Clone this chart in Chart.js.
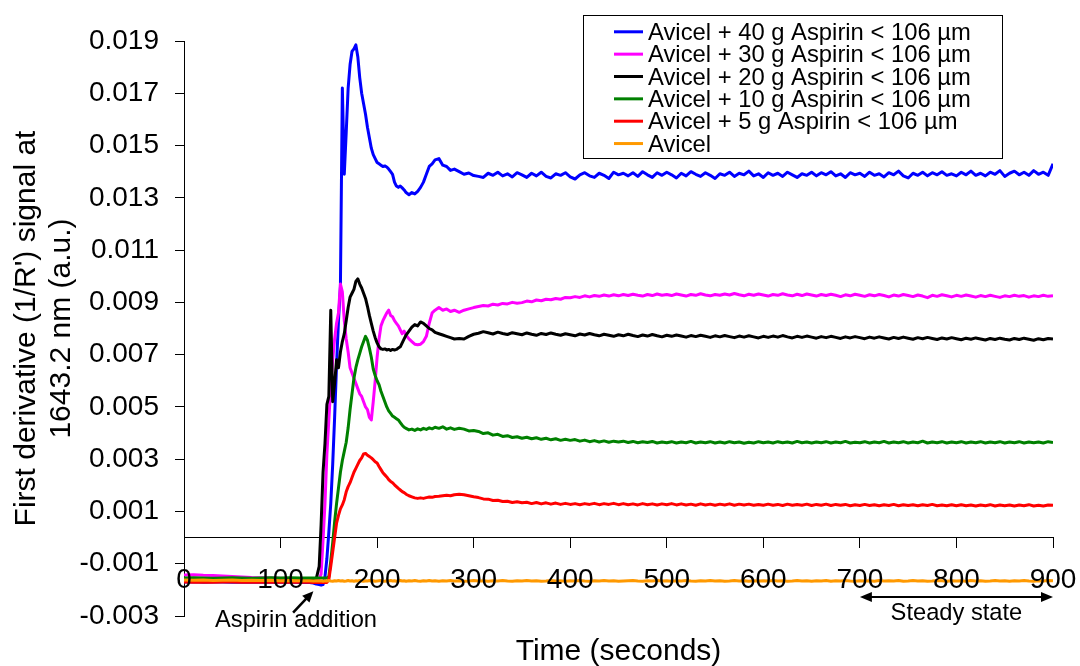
<!DOCTYPE html>
<html><head><meta charset="utf-8">
<script src="https://cdn.jsdelivr.net/npm/chart.js@4.4.1/dist/chart.umd.min.js"></script>
<style>html,body{margin:0;padding:0;background:#fff;}canvas{display:block;}</style>
</head><body>
<canvas id="c" width="1080" height="666"></canvas>
<script>
const FONT = '"Liberation Sans", Arial, Helvetica, sans-serif';

// Time (seconds)
const time = [0,10,20,30,40,50,60,70,80,90,100,110,120,130,
134,137,140,
142,144,146,148,150,152,154,156,158,160,
162,164,166,168,170,172,174,176,178,180,
182,184,186,188,190,192,194,196,198,200,
202,204,206,208,210,212,214,216,218,220,
222,224,226,228,230,
233,236,239,242,245,248,251,254,257,260,
264,268,272,276,280,
285,290,295,300,
305,310,315,320,325,330,335,340,345,350,
355,360,365,370,375,380,385,390,395,400,
405,410,415,420,425,430,435,440,445,450,
455,460,465,470,475,480,485,490,495,500,
505,510,515,520,525,530,535,540,545,550,
555,560,565,570,575,580,585,590,595,600,
605,610,615,620,625,630,635,640,645,650,
655,660,665,670,675,680,685,690,695,700,
705,710,715,720,725,730,735,740,745,750,
755,760,765,770,775,780,785,790,795,800,
805,810,815,820,825,830,835,840,845,850,
855,860,865,870,875,880,885,890,895,900];

const aspirin40 = [-0.0017,-0.00169,-0.00171,-0.0017,-0.0017,-0.00171,-0.0017,-0.00171,-0.0017,-0.00171,-0.0017,-0.00171,-0.00172,-0.00172,
-0.00174,-0.00178,-0.0018,
-0.00182,-0.0018,-0.0015,-0.0008,0.0002,0.0013,0.0028,0.0046,0.0066,0.0083,
0.0096,0.0172,0.0139,0.0155,0.0172,0.0181,0.0186,0.0187,0.01885,0.0184,
0.0176,0.017,0.0166,0.0162,0.0157,0.0153,0.0149,0.01465,0.0145,0.01435,
0.0143,0.01425,0.0142,0.01422,0.01418,0.0141,0.014,0.0139,0.0136,0.01345,
0.0134,0.01345,0.01338,0.0133,0.0132,
0.01312,0.0132,0.01315,0.01325,0.0134,0.0136,0.0139,0.0142,0.0143,0.01445,
0.0145,0.01425,0.0142,0.01405,0.0141,
0.014,0.0139,0.01395,0.01385,
0.01382,0.01378,0.01394,0.01386,0.01398,0.01384,0.01392,0.0138,0.01396,0.01388,
0.01378,0.01394,0.01384,0.01398,0.01382,0.01376,0.01392,0.01386,0.01396,0.0138,
0.01372,0.01388,0.01396,0.01384,0.01378,0.01394,0.01386,0.01374,0.01398,0.01388,
0.01394,0.01384,0.01396,0.01382,0.014,0.01388,0.01378,0.01396,0.01386,0.01398,
0.01388,0.01376,0.01394,0.01384,0.014,0.0139,0.01382,0.01396,0.01386,0.01374,
0.01392,0.01386,0.01398,0.01382,0.01394,0.01388,0.01402,0.01384,0.01392,0.01378,
0.01396,0.01386,0.01394,0.01382,0.01398,0.01388,0.01378,0.01392,0.01386,0.01398,
0.01384,0.01396,0.01388,0.014,0.01384,0.01392,0.01378,0.01396,0.01388,0.01394,
0.01382,0.01398,0.01386,0.01392,0.0138,0.01396,0.01388,0.01402,0.01384,0.01376,
0.01394,0.01386,0.01398,0.01384,0.01396,0.01388,0.014,0.01386,0.01392,0.01384,
0.01398,0.01388,0.01402,0.01386,0.01394,0.01384,0.01398,0.0139,0.01404,0.01382,
0.01394,0.01402,0.01388,0.01398,0.01386,0.01404,0.0139,0.01398,0.01386,0.0143];

const aspirin30 = [-0.00143,-0.00142,-0.00144,-0.00145,-0.00147,-0.00149,-0.00151,-0.00153,-0.00154,-0.00155,-0.00156,-0.00157,-0.00157,-0.00158,
-0.00158,-0.00158,-0.00158,
-0.0014,-0.0001,0.0013,0.0032,0.0045,0.0058,0.0068,0.0076,0.0082,0.0086,
0.0097,0.0094,0.0083,0.0076,0.0071,0.0065,0.0063,0.0061,0.0059,0.0057,
0.0055,0.0054,0.0052,0.005,0.0049,0.0046,0.0045,0.0052,0.006,0.0069,
0.0076,0.0081,0.0083,0.00845,0.0086,0.0087,0.0085,0.00845,0.0083,0.0082,
0.0081,0.00795,0.0078,0.0079,0.00775,
0.0076,0.0075,0.0074,0.00738,0.0074,0.0075,0.0077,0.0082,0.0086,0.0087,
0.0088,0.0087,0.00875,0.00865,0.0087,
0.00862,0.0087,0.00875,0.0088,
0.00884,0.00888,0.00886,0.00893,0.0089,0.00896,0.00894,0.009,0.00897,0.00899,
0.00905,0.00902,0.00909,0.00906,0.00912,0.0091,0.00915,0.00912,0.00919,0.00918,
0.00922,0.00919,0.00925,0.00921,0.00926,0.00923,0.00928,0.00924,0.00929,0.00925,
0.0093,0.00926,0.00931,0.00927,0.00924,0.0093,0.00926,0.00932,0.00927,0.0093,
0.00926,0.00932,0.00928,0.00924,0.0093,0.00927,0.00933,0.00928,0.00925,0.0093,
0.00927,0.00932,0.00928,0.00934,0.00929,0.00925,0.00931,0.00927,0.00932,0.00928,
0.00924,0.0093,0.00927,0.00933,0.00928,0.00925,0.00931,0.00926,0.00932,0.00928,
0.00924,0.0093,0.00926,0.00931,0.00927,0.00922,0.00929,0.00925,0.00931,0.00927,
0.00923,0.00929,0.00925,0.0093,0.00926,0.00921,0.00928,0.00924,0.0093,0.00926,
0.00922,0.00928,0.00924,0.00918,0.00927,0.00923,0.00929,0.00925,0.00921,0.00927,
0.00923,0.00928,0.00924,0.0092,0.00926,0.00922,0.00927,0.00923,0.00919,0.00925,
0.00922,0.00927,0.00923,0.00926,0.0092,0.00925,0.00922,0.00927,0.00923,0.00925];

const aspirin20 = [-0.00158,-0.00158,-0.00158,-0.00158,-0.00159,-0.00158,-0.00159,-0.00158,-0.00159,-0.00158,-0.00159,-0.00158,-0.00159,-0.00158,
-0.00158,-0.00157,-0.0011,
0.0005,0.0025,0.0036,0.0051,0.0054,0.0087,0.0052,0.0059,0.0068,0.0065,
0.0071,0.0075,0.0078,0.0083,0.0088,0.0092,0.00935,0.0095,0.0098,0.0099,
0.0097,0.00955,0.00935,0.00915,0.00885,0.0085,0.0082,0.0079,0.00765,0.00745,
0.0073,0.00722,0.0072,0.00722,0.00718,0.0072,0.00716,0.0072,0.00718,0.0072,
0.00725,0.0073,0.00745,0.0076,0.00775,
0.0079,0.00805,0.00815,0.0081,0.00825,0.0082,0.0081,0.008,0.00795,0.00785,
0.0078,0.00775,0.0077,0.00765,0.0076,
0.00762,0.0076,0.0077,0.00778,
0.00782,0.00788,0.00784,0.00779,0.00786,0.00781,0.00777,0.00784,0.0078,0.00776,
0.00783,0.00778,0.00774,0.00781,0.00777,0.00783,0.00778,0.00774,0.0078,0.00776,
0.00772,0.00779,0.00775,0.00781,0.00776,0.00772,0.00778,0.00774,0.0077,0.00776,
0.00772,0.00778,0.00773,0.00769,0.00775,0.00771,0.00777,0.00772,0.00768,0.00774,
0.0077,0.00775,0.00771,0.00767,0.00773,0.00769,0.00774,0.0077,0.00766,0.00772,
0.00768,0.00773,0.00769,0.00765,0.00771,0.00767,0.00772,0.00768,0.00764,0.0077,
0.00766,0.00771,0.00767,0.00773,0.00768,0.00764,0.0077,0.00766,0.00771,0.00767,
0.00763,0.00769,0.00765,0.0077,0.00766,0.00762,0.00768,0.00764,0.00769,0.00765,
0.00761,0.00767,0.00763,0.00768,0.00764,0.0076,0.00766,0.00762,0.00767,0.00763,
0.00759,0.00765,0.00761,0.00766,0.00762,0.00758,0.00764,0.0076,0.00765,0.00761,
0.00757,0.00763,0.00759,0.00764,0.0076,0.00756,0.00762,0.00758,0.00763,0.00759,
0.00756,0.00762,0.00758,0.00763,0.00759,0.00755,0.00761,0.00757,0.00762,0.0076];

const aspirin10 = [-0.00155,-0.00154,-0.00155,-0.00156,-0.00155,-0.00154,-0.00155,-0.00156,-0.00155,-0.00154,-0.00155,-0.00154,-0.00155,-0.00155,
-0.00155,-0.00155,-0.00155,
-0.00155,-0.00155,-0.00155,-0.00155,-0.0015,-0.0009,-0.0002,0.0006,0.0013,0.0019,
0.0025,0.00295,0.0033,0.00365,0.0042,0.0049,0.0055,0.0061,0.0065,0.0068,
0.00705,0.0073,0.0075,0.0077,0.00755,0.00725,0.0069,0.00645,0.0062,0.006,
0.00585,0.0056,0.0054,0.0052,0.005,0.00485,0.00475,0.00465,0.0046,0.00455,
0.0045,0.0044,0.0043,0.00422,0.00418,
0.00412,0.00415,0.0041,0.00416,0.00412,0.00418,0.00414,0.0042,0.00416,0.00422,
0.00418,0.00424,0.00415,0.0042,0.00414,
0.00418,0.00415,0.00408,0.0041,
0.00406,0.00398,0.00401,0.00392,0.00395,0.00387,0.0039,0.00383,0.00386,0.0038,
0.00384,0.00378,0.00382,0.00376,0.0038,0.00374,0.00378,0.00372,0.00376,0.00372,
0.00375,0.00369,0.00373,0.00367,0.00371,0.00366,0.0037,0.00365,0.00369,0.00366,
0.00369,0.00364,0.00368,0.00363,0.00367,0.00364,0.00368,0.00362,0.00366,0.00363,
0.00367,0.00362,0.00366,0.00363,0.00368,0.00362,0.00366,0.00363,0.00367,0.00362,
0.00366,0.00362,0.00367,0.00363,0.00366,0.00361,0.00365,0.00362,0.00367,0.00363,
0.00366,0.00362,0.00367,0.00363,0.00366,0.00362,0.00368,0.00363,0.00366,0.00362,
0.00366,0.00363,0.00367,0.00362,0.00366,0.00363,0.00368,0.00362,0.00365,0.00363,
0.00367,0.00362,0.00366,0.00363,0.00368,0.00362,0.00366,0.00363,0.00367,0.00362,
0.00366,0.00363,0.00369,0.00362,0.00366,0.00363,0.00367,0.00362,0.00366,0.00363,
0.00367,0.00362,0.00366,0.00363,0.00367,0.00362,0.00366,0.00363,0.00367,0.00362,
0.00366,0.00363,0.00367,0.00362,0.00366,0.00363,0.00366,0.00362,0.00367,0.00364];

const aspirin5 = [-0.0017,-0.00171,-0.0017,-0.00171,-0.0017,-0.0017,-0.00171,-0.0017,-0.00171,-0.0017,-0.00171,-0.0017,-0.00171,-0.00171,
-0.00172,-0.00172,-0.00172,
-0.00172,-0.00172,-0.00172,-0.00172,-0.0016,-0.0011,-0.00055,0.0,0.00055,0.00085,
0.0011,0.00125,0.00145,0.00175,0.00195,0.0021,0.0023,0.0025,0.00265,0.0028,
0.00295,0.00305,0.0032,0.00322,0.00315,0.0031,0.00305,0.00298,0.0029,0.00285,
0.00272,0.0026,0.00248,0.0024,0.00232,0.00222,0.00215,0.0021,0.00202,0.00195,
0.00188,0.00182,0.00176,0.00172,0.00166,
0.0016,0.00156,0.00152,0.0015,0.00152,0.0015,0.00153,0.00155,0.00154,0.00157,
0.00158,0.0016,0.00162,0.0016,0.00164,
0.00166,0.00164,0.0016,0.00156,
0.00153,0.00148,0.00147,0.00142,0.00143,0.00138,0.00139,0.00134,0.00137,0.00133,
0.00135,0.0013,0.00134,0.00129,0.00133,0.00128,0.00132,0.00127,0.00131,0.00127,
0.0013,0.00126,0.0013,0.00127,0.00131,0.00126,0.0013,0.00127,0.00131,0.00126,
0.0013,0.00126,0.00129,0.00125,0.0013,0.00126,0.00129,0.00125,0.00129,0.00126,
0.0013,0.00125,0.00129,0.00125,0.00128,0.00124,0.00129,0.00125,0.00128,0.00124,
0.00128,0.00125,0.00129,0.00124,0.00128,0.00125,0.00128,0.00124,0.00127,0.00124,
0.00128,0.00124,0.00127,0.00123,0.00128,0.00124,0.00127,0.00124,0.00128,0.00123,
0.00127,0.00124,0.00128,0.00123,0.00127,0.00124,0.00127,0.00122,0.00126,0.00123,
0.00127,0.00123,0.00126,0.00122,0.00126,0.00123,0.00127,0.00122,0.00126,0.00123,
0.00126,0.00122,0.00126,0.00123,0.00127,0.00122,0.00125,0.00122,0.00126,0.00122,
0.00126,0.00122,0.00125,0.00121,0.00125,0.00122,0.00126,0.00121,0.00125,0.00122,
0.00125,0.00121,0.00125,0.00122,0.00126,0.00121,0.00124,0.00121,0.00125,0.00124];

const avicel = [-0.00162,-0.00163,-0.00162,-0.00164,-0.00163,-0.00162,-0.00164,-0.00163,-0.00164,-0.00163,-0.00165,-0.00164,-0.00165,-0.00165,
-0.00166,-0.00165,-0.00166,
-0.00165,-0.00167,-0.00165,-0.00166,-0.00164,-0.00166,-0.00167,-0.00165,-0.00166,-0.00164,
-0.00166,-0.00165,-0.00167,-0.00166,-0.00164,-0.00166,-0.00165,-0.00167,-0.00165,-0.00166,
-0.00164,-0.00166,-0.00167,-0.00165,-0.00166,-0.00164,-0.00166,-0.00165,-0.00167,-0.00166,
-0.00165,-0.00164,-0.00166,-0.00167,-0.00165,-0.00166,-0.00164,-0.00166,-0.00165,-0.00167,
-0.00166,-0.00164,-0.00166,-0.00165,-0.00167,
-0.00165,-0.00166,-0.00164,-0.00166,-0.00167,-0.00165,-0.00166,-0.00164,-0.00166,-0.00165,
-0.00167,-0.00165,-0.00166,-0.00164,-0.00166,
-0.00165,-0.00167,-0.00166,-0.00164,
-0.00166,-0.00165,-0.00167,-0.00165,-0.00166,-0.00164,-0.00166,-0.00167,-0.00165,-0.00166,
-0.00164,-0.00166,-0.00165,-0.00167,-0.00166,-0.00164,-0.00166,-0.00165,-0.00167,-0.00165,
-0.00166,-0.00164,-0.00166,-0.00167,-0.00165,-0.00166,-0.00164,-0.00166,-0.00165,-0.00167,
-0.00166,-0.00165,-0.00164,-0.00166,-0.00167,-0.00165,-0.00166,-0.00164,-0.00166,-0.00165,
-0.00167,-0.00165,-0.00166,-0.00164,-0.00166,-0.00167,-0.00165,-0.00166,-0.00164,-0.00166,
-0.00165,-0.00167,-0.00166,-0.00164,-0.00166,-0.00165,-0.00167,-0.00165,-0.00166,-0.00165,
-0.00166,-0.00164,-0.00166,-0.00165,-0.00167,-0.00166,-0.00164,-0.00166,-0.00165,-0.00167,
-0.00165,-0.00166,-0.00164,-0.00167,-0.00165,-0.00166,-0.00164,-0.00166,-0.00167,-0.00165,
-0.00166,-0.00165,-0.00167,-0.00164,-0.00166,-0.00165,-0.00166,-0.00164,-0.00167,-0.00166,
-0.00164,-0.00166,-0.00165,-0.00167,-0.00166,-0.00164,-0.00165,-0.00167,-0.00165,-0.00166,
-0.00165,-0.00167,-0.00164,-0.00166,-0.00165,-0.00167,-0.00166,-0.00164,-0.00166,-0.00165,
-0.00167,-0.00165,-0.00166,-0.00164,-0.00166,-0.00167,-0.00165,-0.00166,-0.00164,-0.00165];

const seriesLabels = ['Avicel + 40 g Aspirin < 106 µm','Avicel + 30 g Aspirin < 106 µm','Avicel + 20 g Aspirin < 106 µm','Avicel + 10 g Aspirin < 106 µm','Avicel + 5 g Aspirin < 106 µm','Avicel'];
const seriesColors = ['#0000FF','#FF00FF','#000000','#008000','#FF0000','#FF9900'];
const seriesValues = [aspirin40, aspirin30, aspirin20, aspirin10, aspirin5, avicel];

const yMin = -0.003, yMax = 0.019, yStep = 0.002;
const xMin = 0, xMax = 900, xStep = 100;
const xTitle = 'Time (seconds)';
const yTitle = ["First derivative (1/R') signal at", '1643.2 nm (a.u.)'];

seriesValues.forEach((arr, i) => { if (arr.length !== time.length) throw new Error(seriesLabels[i] + ' has ' + arr.length + ' values, expected ' + time.length); });

const datasets = seriesValues.map((arr, i) => ({
  label: seriesLabels[i],
  data: time.map((t, k) => ({x: t, y: arr[k]})),
  borderColor: seriesColors[i],
  backgroundColor: seriesColors[i],
  borderWidth: 3,
  pointRadius: 0,
  tension: 0,
  fill: false,
  borderJoinStyle: 'round',
  order: seriesValues.length - i
}));

function arrowHead(ctx, x1, y1, x2, y2, len, half) {
  const a = Math.atan2(y2 - y1, x2 - x1);
  const bx = x2 - len * Math.cos(a), by = y2 - len * Math.sin(a);
  ctx.beginPath();
  ctx.moveTo(x2, y2);
  ctx.lineTo(bx + half * Math.sin(a), by - half * Math.cos(a));
  ctx.lineTo(bx - half * Math.sin(a), by + half * Math.cos(a));
  ctx.closePath();
  ctx.fill();
}

const extras = {
  id: 'extras',
  afterDraw(chart) {
    const {ctx, chartArea} = chart;
    const xs = chart.scales.x, ys = chart.scales.y;
    ctx.save();
    // Legend box
    const lx = 583.5, ly = 15.5, lw = 419, lh = 143;
    ctx.fillStyle = '#fff';
    ctx.fillRect(lx, ly, lw, lh);
    ctx.strokeStyle = '#000';
    ctx.lineWidth = 1;
    ctx.strokeRect(lx, ly, lw, lh);
    ctx.font = '23.8px ' + FONT;
    ctx.textBaseline = 'middle';
    ctx.textAlign = 'left';
    chart.data.datasets.forEach((ds, i) => {
      const yy = 33.3 + 22.35 * i;
      ctx.strokeStyle = ds.borderColor;
      ctx.lineWidth = 3;
      ctx.beginPath();
      ctx.moveTo(614, yy - 1.5);
      ctx.lineTo(643, yy - 1.5);
      ctx.stroke();
      ctx.fillStyle = '#000';
      ctx.fillText(ds.label, 648, yy);
    });
    // X axis title
    ctx.font = '30px ' + FONT;
    ctx.textAlign = 'center';
    ctx.textBaseline = 'middle';
    ctx.fillStyle = '#000';
    ctx.fillText(xTitle, (chartArea.left + chartArea.right) / 2, 652);
    // Aspirin addition arrow
    ctx.strokeStyle = '#000';
    ctx.fillStyle = '#000';
    ctx.lineWidth = 2.5;
    const tx = xs.getPixelForValue(113), ty = ys.getPixelForValue(-0.00287);
    const hx = xs.getPixelForValue(134), hy = ys.getPixelForValue(-0.00205);
    const ang = Math.atan2(hy - ty, hx - tx);
    ctx.beginPath();
    ctx.moveTo(tx, ty);
    ctx.lineTo(hx - 8 * Math.cos(ang), hy - 8 * Math.sin(ang));
    ctx.stroke();
    arrowHead(ctx, tx, ty, hx, hy, 11, 5);
    ctx.font = '23.7px ' + FONT;
    ctx.textBaseline = 'alphabetic';
    ctx.fillText('Aspirin addition', 296, 627);
    // Steady state double arrow
    const sx1 = xs.getPixelForValue(700), sx2 = xs.getPixelForValue(900);
    const sy = 597;
    ctx.lineWidth = 2;
    ctx.beginPath();
    ctx.moveTo(sx1 + 8, sy);
    ctx.lineTo(sx2 - 8, sy);
    ctx.stroke();
    arrowHead(ctx, sx2, sy, sx1, sy, 12, 5);
    arrowHead(ctx, sx1, sy, sx2, sy, 12, 5);
    ctx.fillText('Steady state', (sx1 + sx2) / 2, 620);
    ctx.restore();
  }
};

Chart.defaults.font.family = FONT;
Chart.defaults.color = '#000';

new Chart(document.getElementById('c'), {
  type: 'line',
  data: {datasets},
  options: {
    responsive: false,
    animation: false,
    devicePixelRatio: 1,
    events: [],
    layout: {padding: {left: 0, top: 41, right: 27, bottom: 50}},
    plugins: {legend: {display: false}, tooltip: {enabled: false}},
    scales: {
      x: {
        type: 'linear',
        min: xMin, max: xMax,
        position: {y: 0},
        afterFit(scale) { scale.paddingLeft = 0; scale.paddingRight = 0; },
        grid: {drawOnChartArea: false, drawTicks: true, tickLength: 10, tickColor: '#000', color: '#000'},
        border: {display: true, color: '#000', width: 1},
        ticks: {stepSize: xStep, autoSkip: false, maxRotation: 0, padding: 16, color: '#000', font: {size: 28, family: FONT}, z: 1}
      },
      y: {
        type: 'linear',
        min: yMin, max: yMax,
        position: 'left',
        afterFit(scale) { scale.width = 184; },
        grid: {drawOnChartArea: false, drawTicks: true, tickLength: 9, tickColor: '#000', color: '#000'},
        border: {display: true, color: '#000', width: 1},
        ticks: {stepSize: yStep, autoSkip: false, padding: 16, color: '#000', font: {size: 28, family: FONT}, callback: v => v.toFixed(3)},
        title: {display: true, text: yTitle, color: '#000', font: {size: 30, family: FONT, lineHeight: 1.1667}, padding: {top: 9.5, bottom: 0}}
      }
    }
  },
  plugins: [extras]
});
</script>
</body></html>
